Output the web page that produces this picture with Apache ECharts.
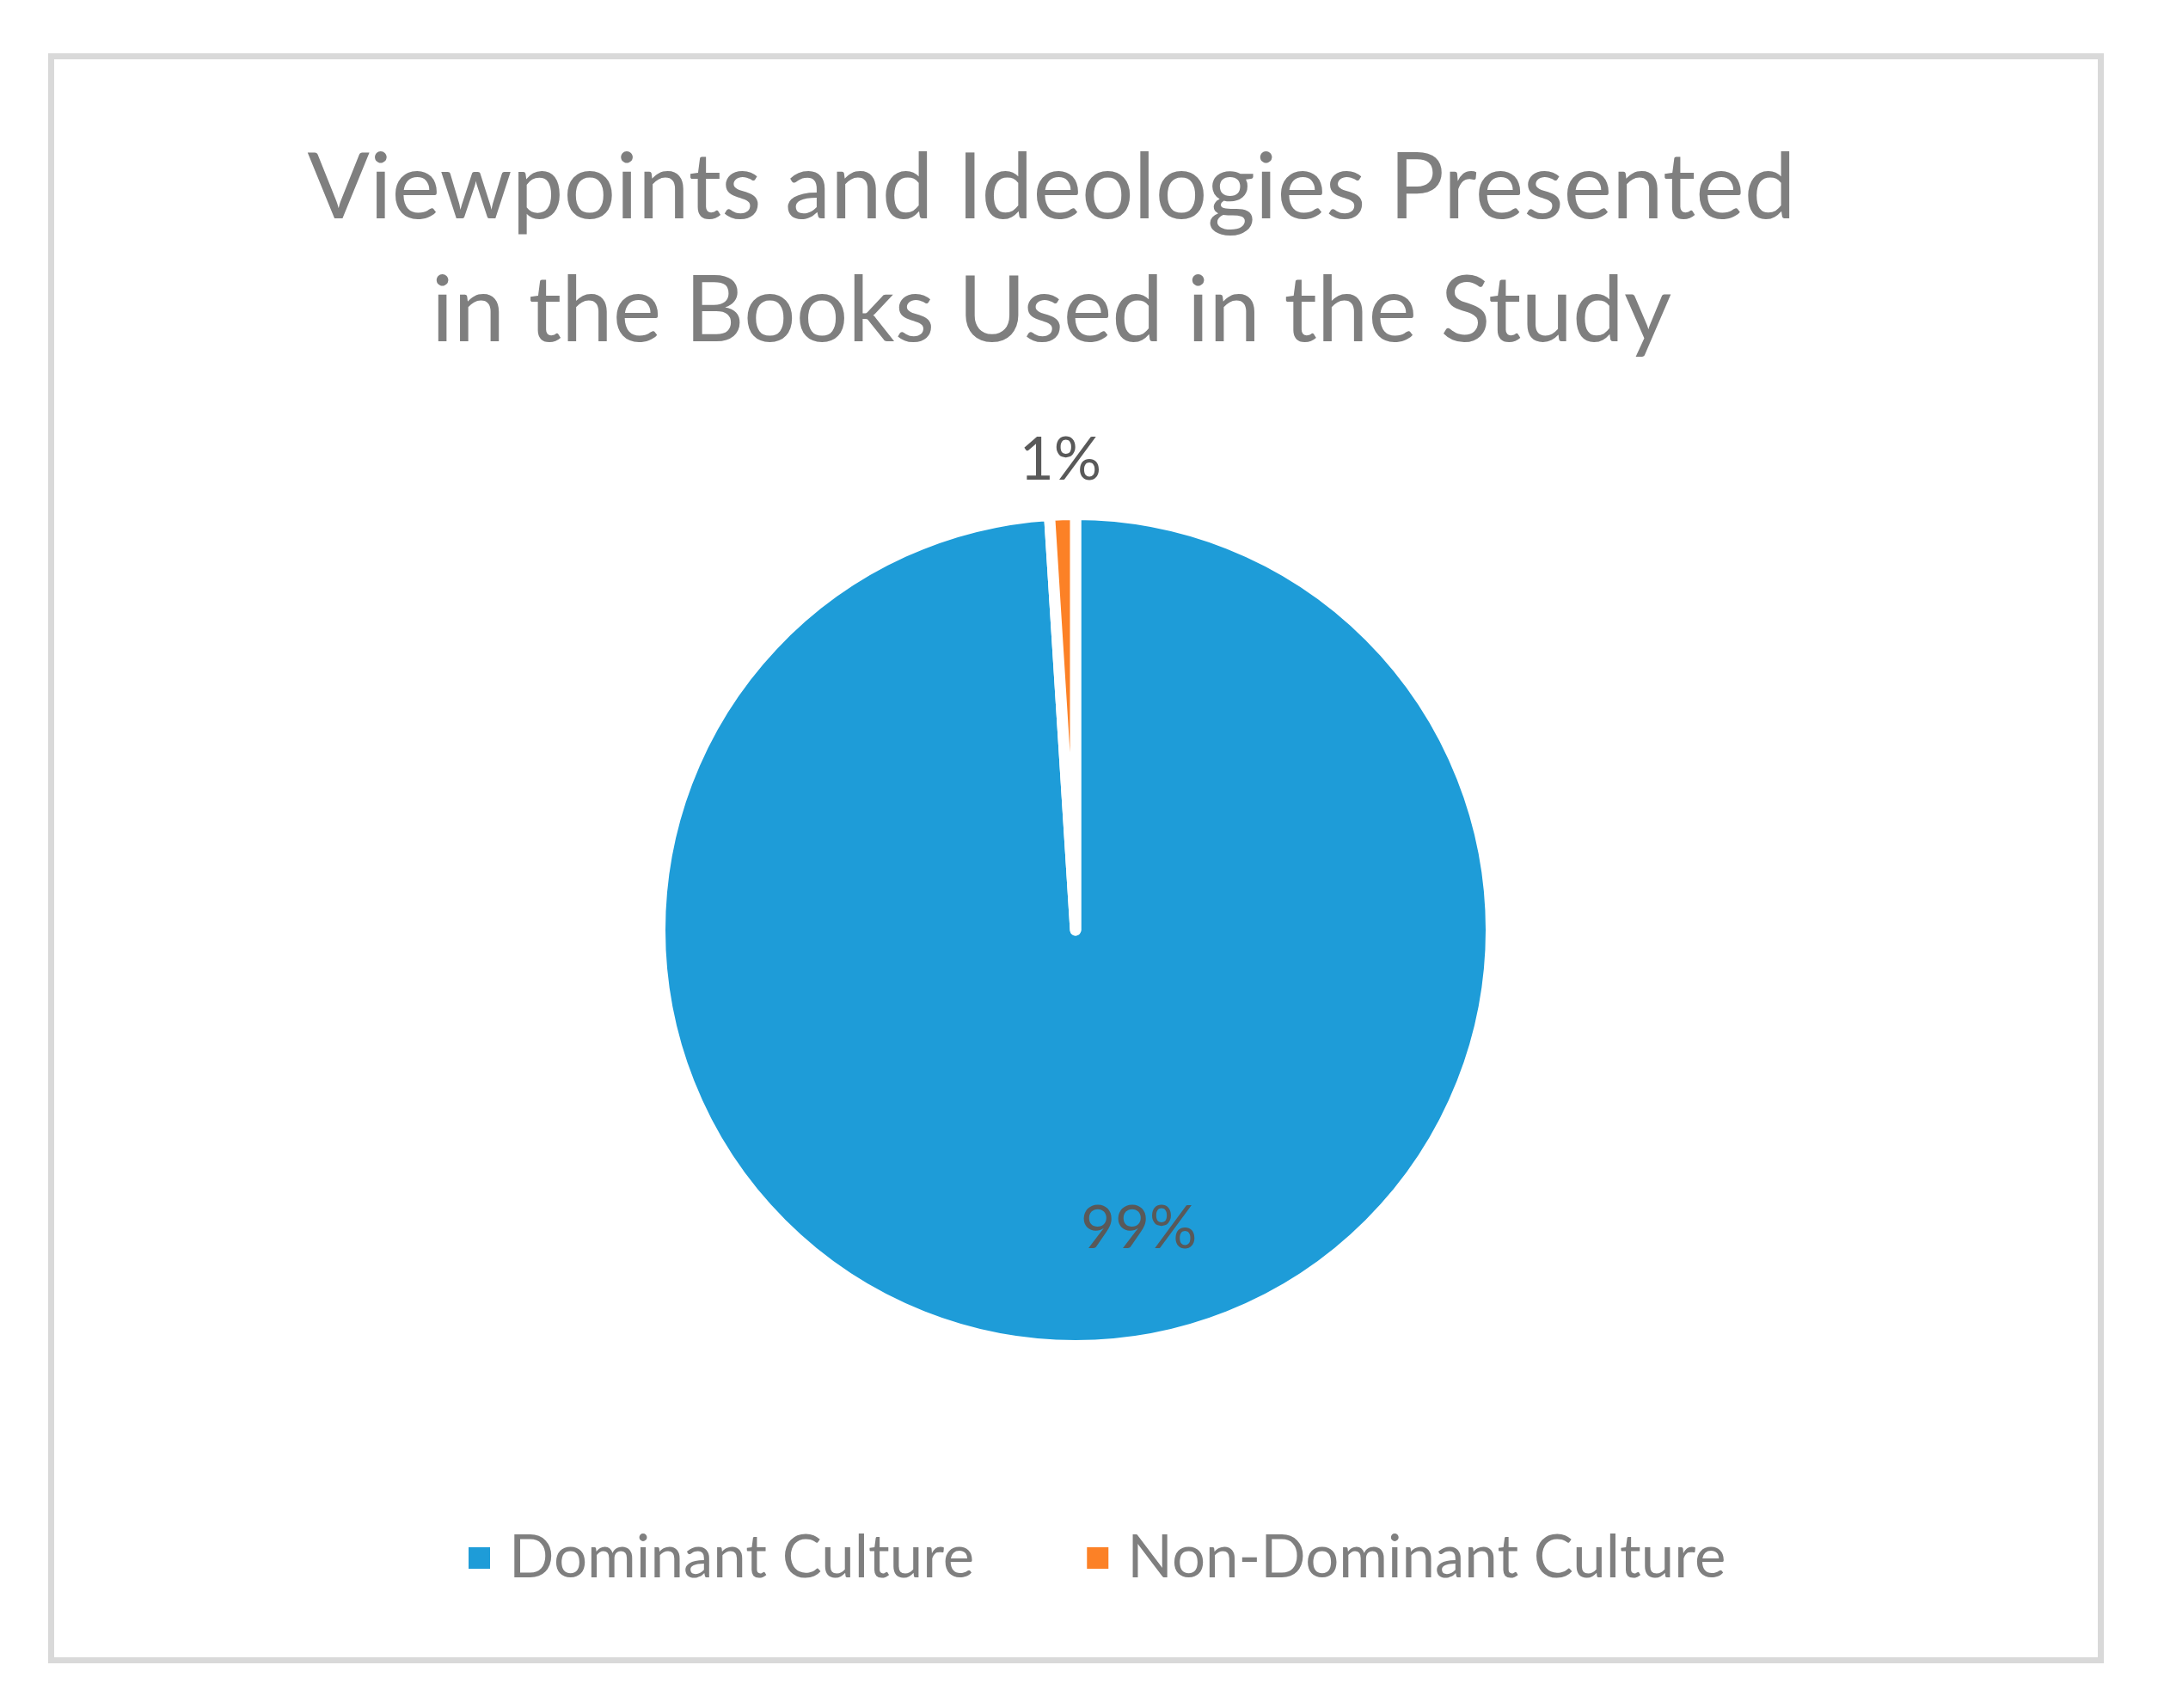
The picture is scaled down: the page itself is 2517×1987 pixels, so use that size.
<!DOCTYPE html>
<html>
<head>
<meta charset="utf-8">
<script src="https://cdn.jsdelivr.net/npm/echarts@6/dist/echarts.min.js"></script>
<style>
html,body{margin:0;padding:0;background:#fff;}
#chart{width:2517px;height:1987px;}
</style>
</head>
<body>
<div id="chart"></div>
<script>
const titleLines = ['Viewpoints and Ideologies Presented', 'in the Books Used in the Study'];
const categories = ['Dominant Culture', 'Non-Dominant Culture'];
const values = [99, 1];
const colors = ['#1E9CD8', '#FC8126'];
const labelOffsets = [[66, 103], [-10, -302]];

const FONT = 'Lato';
const chart = echarts.init(document.getElementById('chart'), null, {renderer: 'canvas'});

const option = {
  backgroundColor: '#ffffff',
  animation: false,
  title: {
    text: titleLines.join('\n'),
    left: 1218,
    top: 143,
    textAlign: 'center',
    textStyle: {
      fontFamily: FONT,
      fontWeight: 'normal',
      fontSize: 107,
      lineHeight: 143,
      color: '#7F7F7F'
    }
  },
  legend: {
    left: 538,
    top: 1773,
    orient: 'horizontal',
    icon: 'rect',
    itemWidth: 27,
    itemHeight: 27,
    itemGap: 129,
    data: categories,
    textStyle: {
      fontFamily: FONT,
      fontSize: 69,
      color: '#7F7F7F',
      padding: [0, 0, 0, 16]
    }
  },
  graphic: [{
    type: 'rect',
    shape: {x: 59.5, y: 65.5, width: 2384, height: 1866},
    style: {fill: 'none', stroke: '#D9D9D9', lineWidth: 7},
    silent: true,
    z: -10
  }],
  series: [{
    type: 'pie',
    center: [1251, 1082],
    radius: [0, 483.5],
    startAngle: 90,
    clockwise: true,
    avoidLabelOverlap: false,
    itemStyle: {borderColor: '#ffffff', borderWidth: 13, borderJoin: 'round'},
    label: {
      show: true,
      position: 'inside',
      formatter: '{d}%',
      fontFamily: FONT,
      fontSize: 69,
      color: '#595959'
    },
    labelLine: {show: false},
    emphasis: {disabled: true},
    data: categories.map((name, i) => ({
      name: name,
      value: values[i],
      itemStyle: {color: colors[i]},
      label: {offset: labelOffsets[i]}
    }))
  }]
};
chart.setOption(option);
</script>
</body>
</html>
